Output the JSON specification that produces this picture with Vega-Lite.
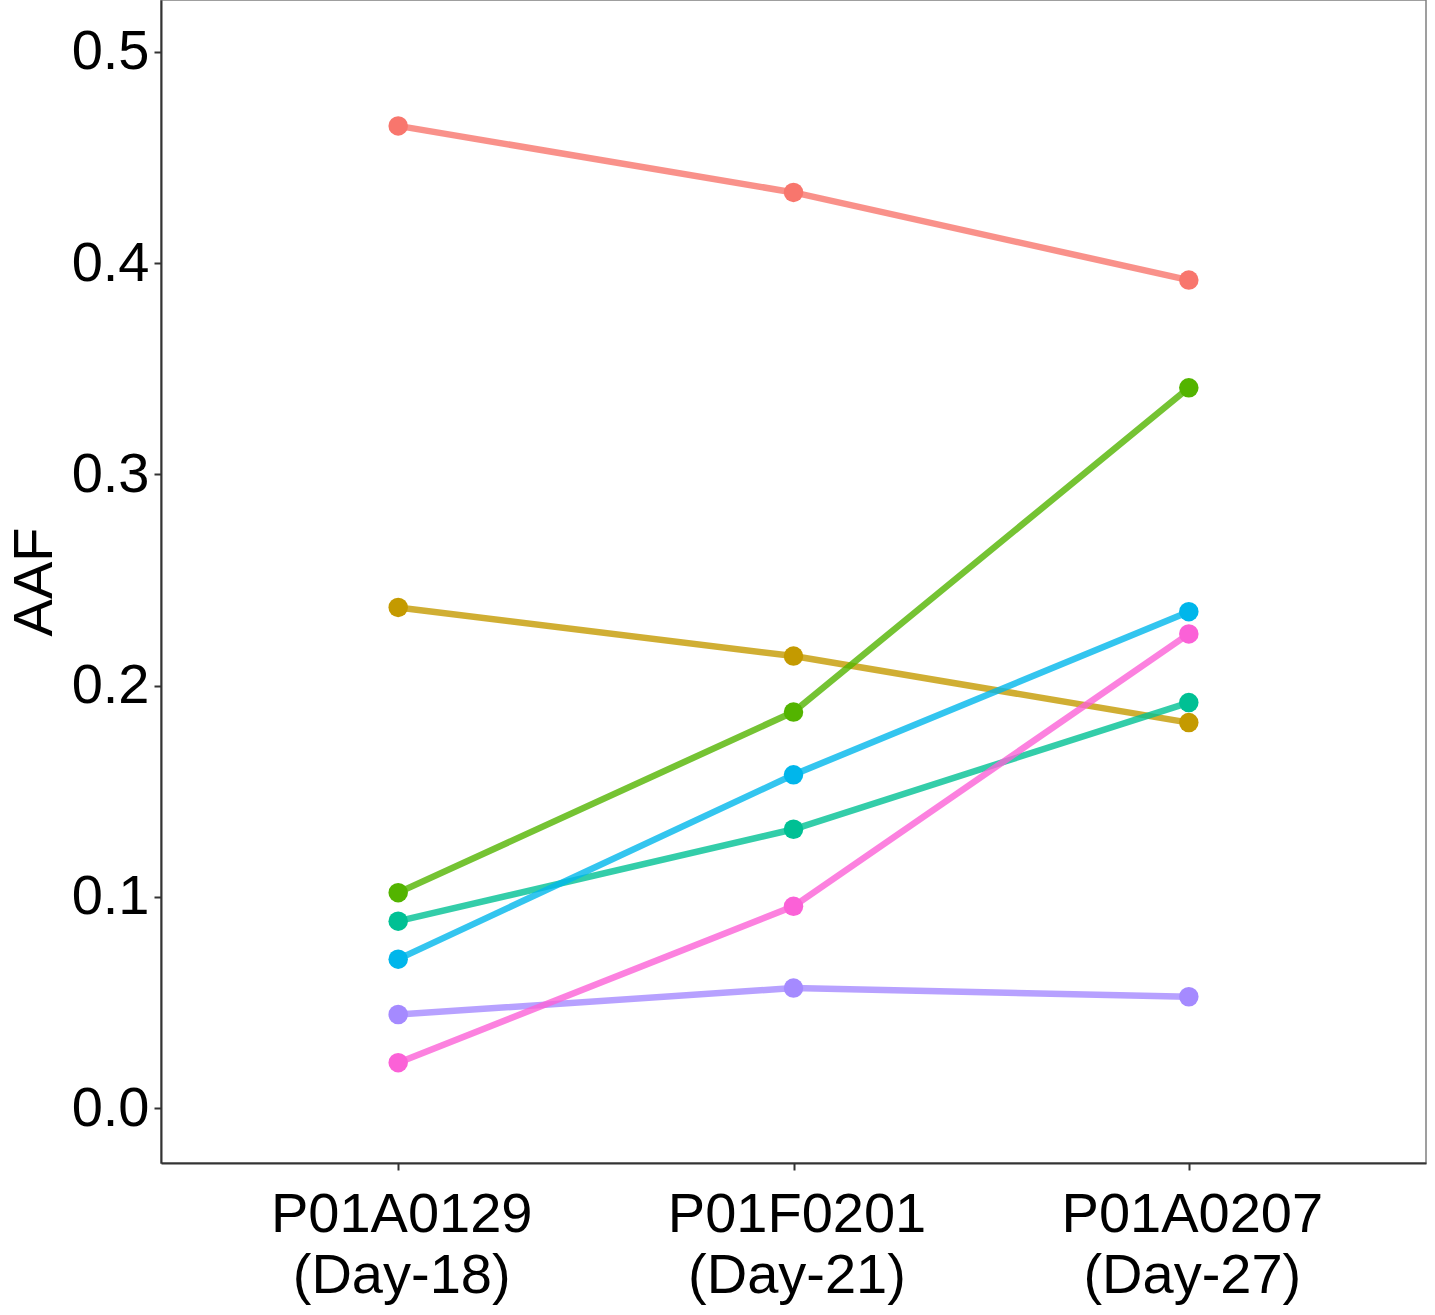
{
  "$schema": "https://vega.github.io/schema/vega-lite/v6.json",
  "width": 1265,
  "height": 1163,
  "autosize": {"type": "none"},
  "padding": {"left": 161, "top": 0, "right": 9, "bottom": 152},
  "background": "white",
  "config": {
    "font": "Liberation Sans",
    "view": {"stroke": "#808080", "strokeWidth": 1.5},
    "axis": {
      "grid": false,
      "domainColor": "#333333",
      "domainWidth": 2,
      "tickColor": "#333333",
      "tickWidth": 2,
      "tickSize": 7,
      "labelColor": "black",
      "labelFont": "Liberation Sans",
      "labelFontSize": 56,
      "labelLimit": 0,
      "titleFont": "Liberation Sans",
      "titleFontSize": 56,
      "titleFontWeight": "normal",
      "titleColor": "black"
    }
  },
  "data": {
    "values": [
      {"sample": "P01A0129 (Day-18)", "variant": "V1", "aaf": 0.465},
      {"sample": "P01F0201 (Day-21)", "variant": "V1", "aaf": 0.4335},
      {"sample": "P01A0207 (Day-27)", "variant": "V1", "aaf": 0.392},
      {"sample": "P01A0129 (Day-18)", "variant": "V2", "aaf": 0.237},
      {"sample": "P01F0201 (Day-21)", "variant": "V2", "aaf": 0.214},
      {"sample": "P01A0207 (Day-27)", "variant": "V2", "aaf": 0.1825},
      {"sample": "P01A0129 (Day-18)", "variant": "V3", "aaf": 0.102},
      {"sample": "P01F0201 (Day-21)", "variant": "V3", "aaf": 0.1875},
      {"sample": "P01A0207 (Day-27)", "variant": "V3", "aaf": 0.341},
      {"sample": "P01A0129 (Day-18)", "variant": "V4", "aaf": 0.0885},
      {"sample": "P01F0201 (Day-21)", "variant": "V4", "aaf": 0.132},
      {"sample": "P01A0207 (Day-27)", "variant": "V4", "aaf": 0.192},
      {"sample": "P01A0129 (Day-18)", "variant": "V5", "aaf": 0.0705},
      {"sample": "P01F0201 (Day-21)", "variant": "V5", "aaf": 0.1578},
      {"sample": "P01A0207 (Day-27)", "variant": "V5", "aaf": 0.235},
      {"sample": "P01A0129 (Day-18)", "variant": "V6", "aaf": 0.0443},
      {"sample": "P01F0201 (Day-21)", "variant": "V6", "aaf": 0.0568},
      {"sample": "P01A0207 (Day-27)", "variant": "V6", "aaf": 0.0527},
      {"sample": "P01A0129 (Day-18)", "variant": "V7", "aaf": 0.0215},
      {"sample": "P01F0201 (Day-21)", "variant": "V7", "aaf": 0.0955},
      {"sample": "P01A0207 (Day-27)", "variant": "V7", "aaf": 0.2245}
    ]
  },
  "encoding": {
    "x": {
      "field": "sample",
      "type": "ordinal",
      "sort": ["P01A0129 (Day-18)", "P01F0201 (Day-21)", "P01A0207 (Day-27)"],
      "scale": {"type": "point", "padding": 0.6},
      "axis": {
        "title": null,
        "labelAngle": 0,
        "labelExpr": "['\\u00a0\\u00a0' + split(datum.value, ' ')[0], split(datum.value, ' ')[1]]",
        "labelLineHeight": 61,
        "labelBaseline": "top",
        "labelPadding": 17,
        "labelOffset": 3
      }
    },
    "y": {
      "field": "aaf",
      "type": "quantitative",
      "scale": {"domain": [-0.026, 0.5246], "nice": false, "zero": false},
      "axis": {
        "title": "AAF",
        "values": [0, 0.1, 0.2, 0.3, 0.4, 0.5],
        "format": ".1f",
        "labelPadding": 5,
        "titlePadding": 8
      }
    },
    "color": {
      "field": "variant",
      "type": "nominal",
      "scale": {
        "domain": ["V1", "V2", "V3", "V4", "V5", "V6", "V7"],
        "range": ["#F8766D", "#C49A00", "#53B400", "#00C094", "#00B6EB", "#A58AFF", "#FB61D7"]
      },
      "legend": null
    }
  },
  "layer": [
    {"mark": {"type": "line", "strokeWidth": 6.5, "opacity": 0.8}},
    {"mark": {"type": "circle", "size": 380, "opacity": 1}}
  ]
}
